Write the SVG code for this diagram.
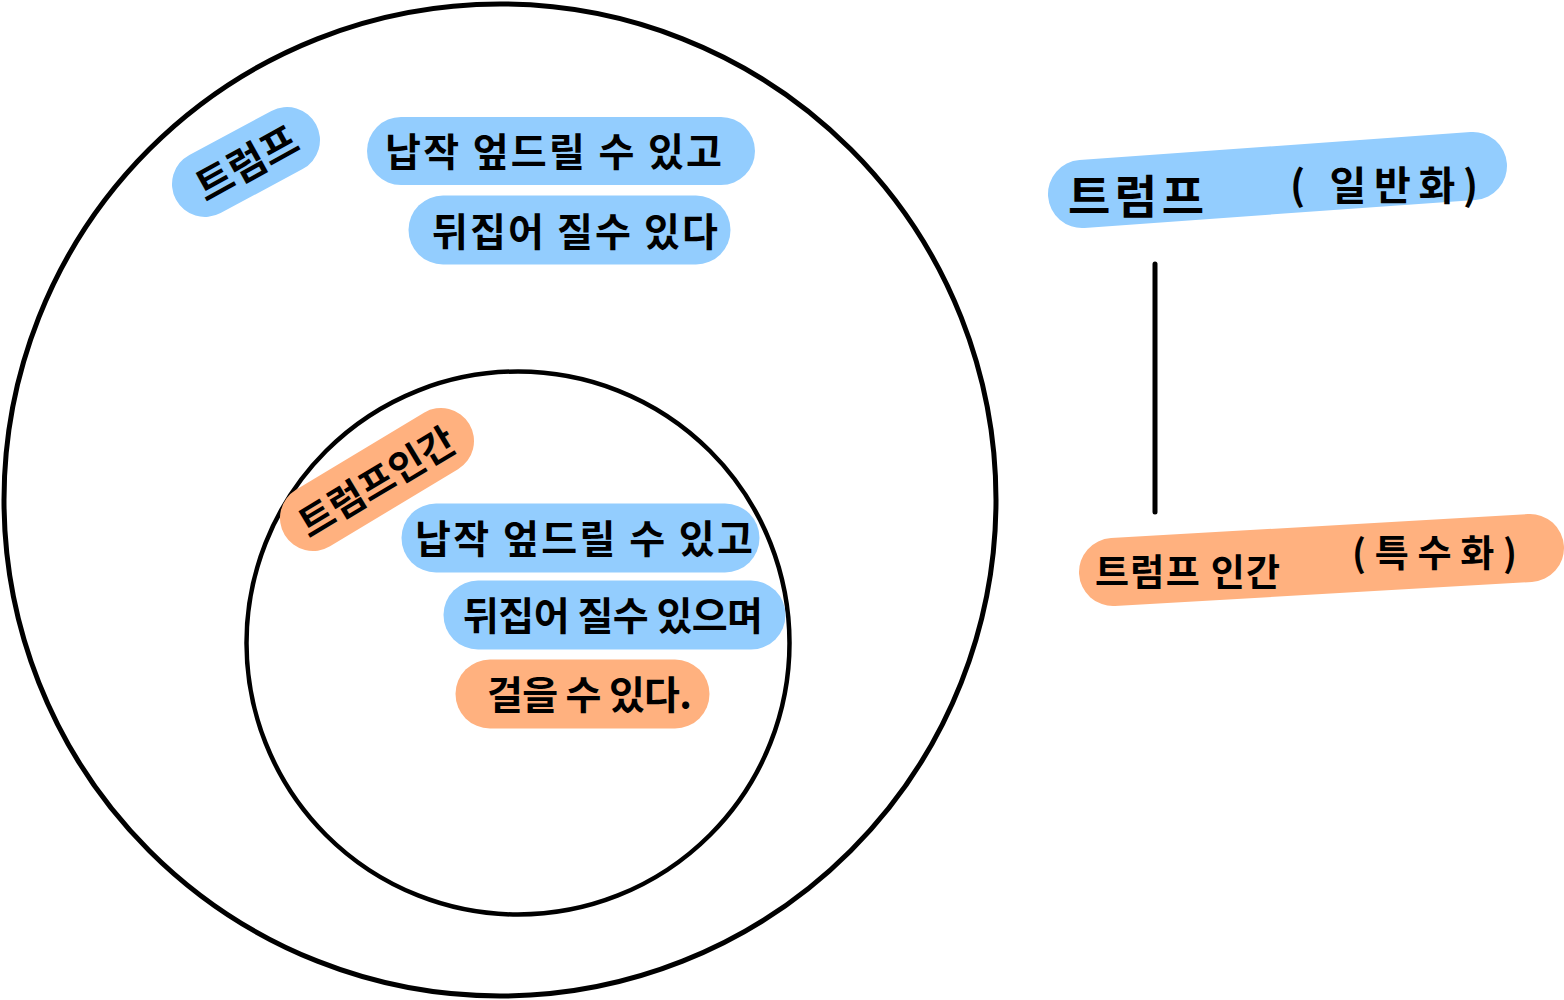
<svg xmlns="http://www.w3.org/2000/svg" width="1564" height="1000" viewBox="0 0 1564 1000">
<style>
.ring{fill:none;stroke:#000}
.hb{stroke:#93CDFE;stroke-linecap:round;fill:none}
.ho{stroke:#FFB17F;stroke-linecap:round;fill:none}
.t{font-family:"Noto Sans CJK KR","Noto Sans",sans-serif;font-weight:700;fill:#000}
</style>
<rect width="1564" height="1000" fill="#fff"/>
<g id="outer-circle"><circle class="ring" cx="500" cy="500" r="496" stroke-width="5"/></g>
<g id="inner-circle"><circle class="ring" cx="518" cy="643" r="271.5" stroke-width="4.5"/></g>

<g id="trump-label">
<line class="hb" x1="205" y1="184" x2="287" y2="140" stroke-width="66"/>
<text class="t" x="0" y="0" font-size="40" text-anchor="middle" transform="translate(254,176) rotate(-29)">트럼프</text>
</g>
<g id="trump-prop1">
<line class="hb" x1="401" y1="151" x2="721" y2="151" stroke-width="68"/>
<text class="t" x="385" y="166" font-size="39" textLength="337" lengthAdjust="spacing">납작 엎드릴 수 있고</text>
</g>
<g id="trump-prop2">
<line class="hb" x1="443" y1="230" x2="696" y2="230" stroke-width="69"/>
<text class="t" x="432" y="246" font-size="39" textLength="286" lengthAdjust="spacing">뒤집어 질수 있다</text>
</g>

<g id="trumphuman-label">
<line class="ho" x1="313" y1="518" x2="441" y2="441" stroke-width="66"/>
<text class="t" x="0" y="0" font-size="38" text-anchor="middle" transform="translate(384,494) rotate(-31)">트럼프인간</text>
</g>
<g id="human-prop1">
<line class="hb" x1="436" y1="538" x2="725" y2="538" stroke-width="69"/>
<text class="t" x="415" y="553" font-size="39" textLength="338" lengthAdjust="spacing">납작 엎드릴 수 있고</text>
</g>
<g id="human-prop2">
<line class="hb" x1="478" y1="615" x2="751" y2="615" stroke-width="69"/>
<text class="t" x="463" y="630" font-size="39" textLength="300" lengthAdjust="spacing">뒤집어 질수 있으며</text>
</g>
<g id="human-prop3">
<line class="ho" x1="490" y1="694" x2="675" y2="694" stroke-width="69"/>
<text class="t" x="487" y="709" font-size="39" textLength="205" lengthAdjust="spacing">걸을 수 있다.</text>
</g>

<g id="general">
<line class="hb" x1="1082" y1="194" x2="1473" y2="166" stroke-width="68"/>
<text class="t" x="1068" y="213" font-size="46" textLength="136" lengthAdjust="spacing">트럼프</text>
<text class="t" x="1290" y="200" font-size="40" textLength="188" lengthAdjust="spacing">( 일반화)</text>
</g>
<g id="special">
<line class="ho" x1="1113" y1="572" x2="1530" y2="548" stroke-width="68"/>
<text class="t" x="1095" y="586" font-size="37" textLength="185" lengthAdjust="spacing">트럼프 인간</text>
<text class="t" x="1352" y="567" font-size="37" textLength="165" lengthAdjust="spacing">(특수화)</text>
</g>

<g id="connectors">
<line x1="1155" y1="264" x2="1155" y2="512" stroke="#000" stroke-width="5" stroke-linecap="round"/>
</g>
</svg>
